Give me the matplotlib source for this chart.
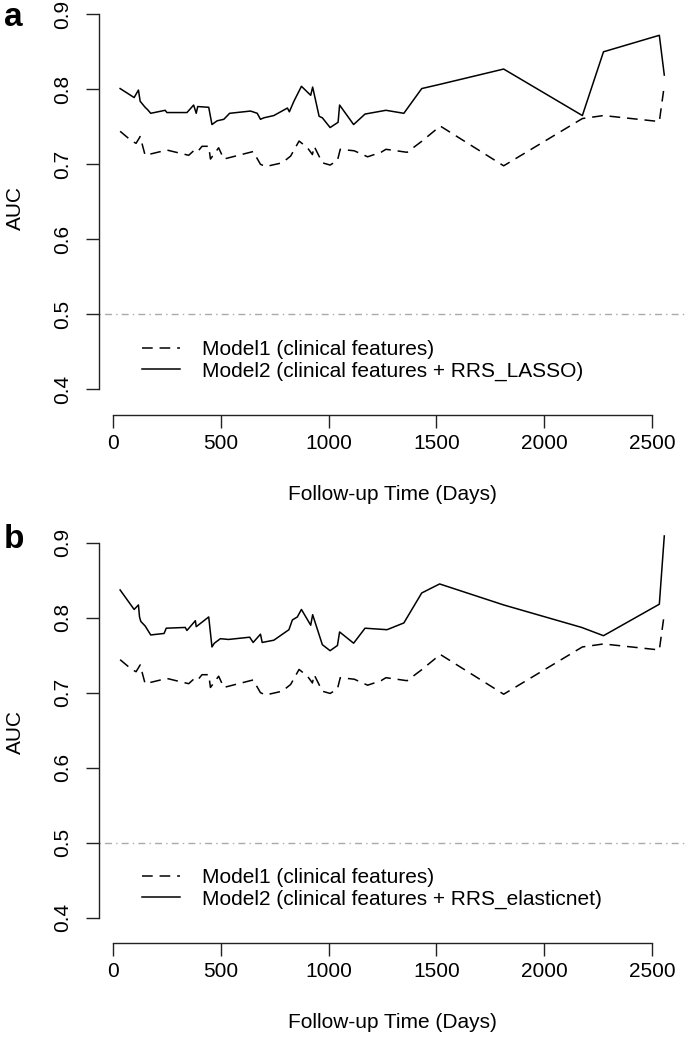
import matplotlib
matplotlib.use("Agg")
import matplotlib.pyplot as plt

plt.rcParams['font.family'] = ['Liberation Sans', 'DejaVu Sans']

# Model1 (clinical features) - same in both panels
m1_days = [33, 87, 107, 126, 149, 250, 351, 374, 390, 413, 444, 452, 490, 514,
           650, 684, 708, 785, 824, 863, 902, 925, 933, 971, 1007, 1041, 1054,
           1119, 1181, 1243, 1266, 1364, 1429, 1518, 1812, 2177, 2275, 2534, 2557]
m1_auc = [0.744, 0.731, 0.728, 0.737, 0.712, 0.719, 0.712, 0.718, 0.716, 0.724,
          0.724, 0.707, 0.722, 0.707, 0.717, 0.700, 0.697, 0.702, 0.711, 0.731,
          0.722, 0.713, 0.724, 0.702, 0.699, 0.705, 0.720, 0.718, 0.710, 0.716,
          0.720, 0.716, 0.730, 0.751, 0.698, 0.761, 0.765, 0.757, 0.805]

# Model2 (clinical features + RRS_LASSO)
lasso_days = [33, 98, 118, 126, 149, 160, 175, 242, 250, 343, 374, 386, 393, 444,
              459, 483, 514, 541, 638, 669, 684, 700, 746, 809, 818, 839, 874,
              917, 926, 956, 971, 1007, 1044, 1051, 1116, 1169, 1266, 1349, 1432,
              1522, 1812, 2177, 2275, 2534, 2557]
lasso_auc = [0.801, 0.789, 0.799, 0.784, 0.776, 0.773, 0.768, 0.772, 0.769, 0.769,
             0.779, 0.768, 0.777, 0.776, 0.753, 0.758, 0.760, 0.768, 0.771, 0.768,
             0.760, 0.762, 0.765, 0.775, 0.770, 0.784, 0.804, 0.792, 0.803, 0.764,
             0.762, 0.749, 0.756, 0.779, 0.753, 0.767, 0.772, 0.768, 0.801, 0.807,
             0.827, 0.765, 0.850, 0.872, 0.819]

# Model2 (clinical features + RRS_elasticnet)
enet_days = [33, 98, 118, 123, 129, 149, 175, 237, 247, 335, 343, 382, 386, 444,
             459, 470, 498, 536, 634, 650, 684, 692, 746, 816, 832, 855, 874,
             917, 926, 971, 1007, 1041, 1051, 1116, 1169, 1271, 1349, 1432, 1515,
             1812, 2174, 2275, 2534, 2557]
enet_auc = [0.837, 0.811, 0.817, 0.801, 0.795, 0.789, 0.777, 0.779, 0.786, 0.787,
            0.783, 0.796, 0.788, 0.801, 0.761, 0.766, 0.772, 0.771, 0.774, 0.767,
            0.778, 0.767, 0.770, 0.784, 0.797, 0.801, 0.811, 0.790, 0.804, 0.764,
            0.756, 0.763, 0.781, 0.766, 0.786, 0.784, 0.793, 0.833, 0.845, 0.817,
            0.787, 0.776, 0.818, 0.909]

x_ticks = [0, 500, 1000, 1500, 2000, 2500]
y_ticks = [0.4, 0.5, 0.6, 0.7, 0.8, 0.9]

W, H = 685, 1037
fig = plt.figure(figsize=(W / 100, H / 100), dpi=100)

FS = 15
DASH = (7, 4.5)


def draw_panel(top_px, bottom_px, y09_px, letter, m2_days, m2_auc, m2_label):
    left_px = 99
    ax = fig.add_axes([left_px / W, 1 - bottom_px / H, (W - left_px) / W,
                       (bottom_px - top_px) / H])
    ppu = 750.0  # pixels per AUC unit
    ax.set_ylim(0.9 - (bottom_px - y09_px) / ppu, 0.9 + (y09_px - top_px) / ppu)
    ppd = (652 - 113) / 2500.0
    ax.set_xlim((left_px - 113) / ppd, (W - 113) / ppd)

    ax.axhline(0.5, color='#aaaaaa', lw=1.0, dashes=(1, 3, 5, 3))
    ax.plot(m1_days, m1_auc, color='black', lw=1.1, dashes=DASH,
            label='Model1 (clinical features)')
    ax.plot(m2_days, m2_auc, color='black', lw=1.1, label=m2_label)

    for s in ['top', 'right']:
        ax.spines[s].set_visible(False)
    ax.spines['left'].set_bounds(0.4, 0.9)
    ax.spines['bottom'].set_bounds(0, 2500)
    for s in ['left', 'bottom']:
        ax.spines[s].set_color('#222222')
        ax.spines[s].set_linewidth(1.0)
    ax.set_xticks(x_ticks)
    ax.set_yticks(y_ticks)
    ax.set_yticklabels(['0.4', '0.5', '0.6', '0.7', '0.8', '0.9'],
                       rotation=90, va='center')
    ax.tick_params(length=9.5, width=1.0, color='#222222', labelsize=FS)
    ax.tick_params(axis='y', pad=10)
    ax.tick_params(axis='x', pad=4)
    ax.set_xlabel('Follow-up Time (Days)', fontsize=FS, labelpad=23)
    ax.set_ylabel('AUC', fontsize=FS, labelpad=20)

    ax.legend(loc='upper left', frameon=False, fontsize=FS,
              bbox_to_anchor=(142 / W, 1 - (bottom_px - 75) / H),
              bbox_transform=fig.transFigure, borderpad=0,
              borderaxespad=0, handlelength=1.8, handletextpad=1.1,
              labelspacing=0.12)
    fig.text(4 / W, 1 - (top_px + 17) / H, letter, fontsize=24,
             fontweight='bold', va='center', ha='left')
    return ax


draw_panel(0, 415, 14.3, 'a', lasso_days, lasso_auc,
           'Model2 (clinical features + RRS_LASSO)')
draw_panel(522, 943, 542.7, 'b', enet_days, enet_auc,
           'Model2 (clinical features + RRS_elasticnet)')

fig.savefig('out.png', dpi=100)
